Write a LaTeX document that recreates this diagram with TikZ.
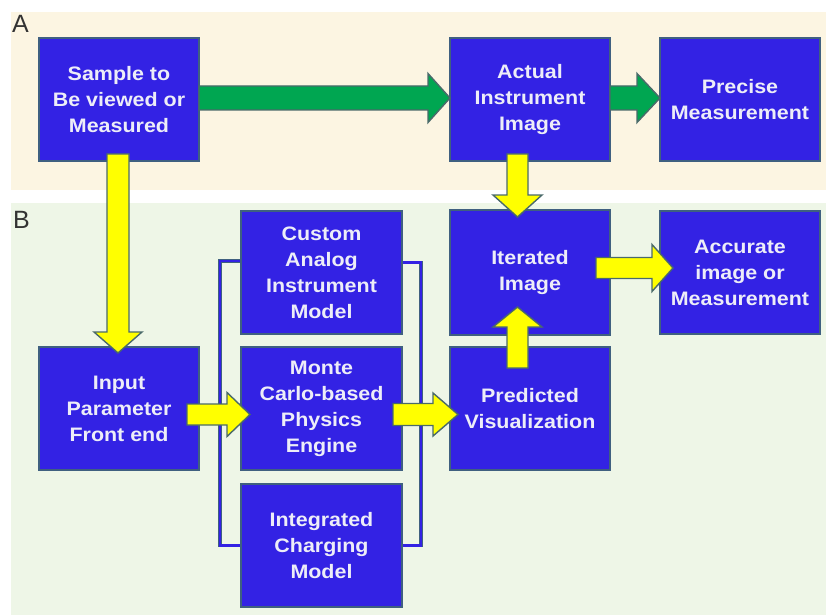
\documentclass[tikz,border=0pt]{standalone}
\usepackage{fontspec}
\setmainfont{Liberation Sans}[FakeStretch=1.1]
\newfontfamily\labfont{Liberation Sans}
\usetikzlibrary{calc}
\definecolor{bgA}{HTML}{FCF5E2}
\definecolor{bgB}{HTML}{EEF6E7}
\definecolor{boxblue}{HTML}{3322E4}
\definecolor{boxedge}{HTML}{3F6080}
\definecolor{arrowedge}{HTML}{4A6A6A}
\definecolor{arrgreen}{HTML}{00A651}
\definecolor{arryellow}{HTML}{FFFF00}
\definecolor{boxtext}{HTML}{EDEDF8}
\definecolor{labgray}{HTML}{333333}
\tikzset{
  blockbox/.style={draw=boxedge, line width=1.6pt, fill=boxblue, minimum width=160pt,
    minimum height=123pt, inner sep=0pt, outer sep=0pt, align=center, text=boxtext,
    font=\bfseries\fontsize{19.5}{26}\selectfont},
  arrowline/.style={draw=arrowedge, line width=1.4pt, line join=miter},
  bracket/.style={draw=boxedge, line width=0.7pt, double=boxblue, double distance=2.4pt},
  panellabel/.style={anchor=base west, inner sep=0pt, text=labgray, font=\labfont\fontsize{25}{25}\selectfont}
}
% horizontal block arrow: fill, start, end, shaft half, head half, head length
\newcommand\harrow[6]{%
  \coordinate (hS) at #2; \coordinate (hE) at #3; \coordinate (hA) at (hS |- hE);
  \draw[arrowline, fill=#1] ($(hA)+(0,-#4)$) -- ($(hE)+({-(#6)},-#4)$) -- ($(hE)+({-(#6)},-#5)$)
    -- (hE) -- ($(hE)+({-(#6)},#5)$) -- ($(hE)+({-(#6)},#4)$) -- ($(hA)+(0,#4)$) -- cycle;}
% vertical block arrow (length signed: positive = downward)
\newcommand\varrow[6]{%
  \coordinate (vS) at #2; \coordinate (vE) at #3; \coordinate (vA) at (vE |- vS);
  \draw[arrowline, fill=#1] ($(vA)+(-#4,0)$) -- ($(vE)+(-#4,{-(#6)})$) -- ($(vE)+(-#5,{-(#6)})$)
    -- (vE) -- ($(vE)+(#5,{-(#6)})$) -- ($(vE)+(#4,{-(#6)})$) -- ($(vA)+(#4,0)$) -- cycle;}
\begin{document}
\begin{tikzpicture}[x=1pt, y=-1pt]
\useasboundingbox (0,0) rectangle (830,615);
\fill[white] (0,0) rectangle (830,615);
\fill[bgA] (11,12) rectangle (826,190);
\fill[bgB] (11,203) rectangle (826,615);
\node[panellabel] (labA) at (12,33) {A};
\node[panellabel] (labB) at (13,228) {B};

\node[blockbox] (s)    at (119,99.5)   {Sample to\\Be viewed or\\Measured};
\node[blockbox] (act)  at (530,99.5)   {Actual\\Instrument\\Image};
\node[blockbox] (pre)  at (740,99.5)   {Precise\\Measurement};
\node[blockbox, minimum width=161pt] (cus) at (321.5,272.5) {Custom\\Analog\\Instrument\\Model};
\node[blockbox, minimum height=125pt] (it) at (530,272.5) {Iterated\\Image};
\node[blockbox] (acc)  at (740,272.5)  {Accurate\\image or\\Measurement};
\node[blockbox] (inp)  at (119,408.5)  {Input\\Parameter\\Front end};
\node[blockbox, minimum width=161pt] (mon) at (321.5,408.5) {Monte\\Carlo-based\\Physics\\Engine};
\node[blockbox] (pred) at (530,408.5)  {Predicted\\Visualization};
\node[blockbox, minimum width=161pt] (int) at (321.5,545.5) {Integrated\\Charging\\Model};

% brackets around the model column
\begin{scope}[on background layer/.try]
\end{scope}
\draw[bracket] ($(cus.west)+(0,-11.5)$) -| ($(int.west)+(-21,0)$) -- (int.west);
\draw[bracket] ($(cus.east)+(0,-10)$) -| ($(int.east)+(19,0)$) -- (int.east);
% redraw boxes over bracket ends
\foreach \n in {cus,int}{\draw[draw=boxedge, line width=1.6pt] (\n.south west) rectangle (\n.north east);}

% green arrows
\harrow{arrgreen}{(s.east)}{($(act.west)+(0,-1.5)$)}{12}{24.5}{22}
\harrow{arrgreen}{(act.east)}{($(pre.west)+(0,-1.5)$)}{12}{24.5}{23}
% yellow arrows
\varrow{arryellow}{($(s.south)+(-1,-7)$)}{($(inp.north)+(-1,6)$)}{11}{24}{21}
\varrow{arryellow}{($(act.south)+(-12.5,-7)$)}{($(it.north)+(-12.5,7)$)}{10.5}{24.5}{22}
\varrow{arryellow}{($(pred.north)+(-12.5,21)$)}{($(it.south)+(-12.5,-28)$)}{10.5}{24.5}{-20}
\harrow{arryellow}{($(inp.east)+(-12,6)$)}{($(mon.west)+(9,6)$)}{10.5}{22}{23}
\harrow{arryellow}{($(mon.east)+(-9,6)$)}{($(pred.west)+(8,6)$)}{11}{21.5}{25}
\harrow{arryellow}{($(it.east)+(-14,-5)$)}{($(acc.west)+(13,-4.5)$)}{10.5}{23.5}{21}
\end{tikzpicture}
\end{document}
